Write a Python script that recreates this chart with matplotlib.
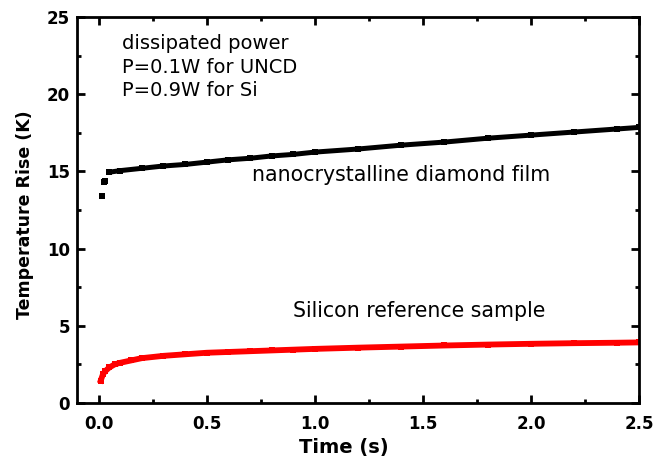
import matplotlib
matplotlib.use('Agg')
import matplotlib.pyplot as plt
from matplotlib.ticker import MultipleLocator

# values
t_uncd = [0.015, 0.025, 0.03, 0.05, 0.1, 0.2, 0.3, 0.4, 0.5, 0.6, 0.7, 0.8, 0.9, 1.0,
          1.2, 1.4, 1.6, 1.8, 2.0, 2.2, 2.4, 2.5]
dT_uncd = [13.4, 14.3, 14.35, 14.95, 15.05, 15.2, 15.35, 15.45, 15.6, 15.75, 15.85,
           16.0, 16.1, 16.25, 16.45, 16.7, 16.9, 17.15, 17.35, 17.55, 17.75, 17.85]

t_si = [0.01, 0.02, 0.03, 0.05, 0.075, 0.1, 0.15, 0.2, 0.3, 0.4, 0.5, 0.6, 0.7, 0.8,
        0.9, 1.0, 1.2, 1.4, 1.6, 1.8, 2.0, 2.2, 2.4, 2.5]
dT_si = [1.45, 1.85, 2.05, 2.3, 2.5, 2.6, 2.75, 2.9, 3.05, 3.15, 3.25, 3.3, 3.35, 3.4,
         3.45, 3.5, 3.58, 3.65, 3.72, 3.78, 3.83, 3.87, 3.9, 3.92]

xticks = [0.0, 0.5, 1.0, 1.5, 2.0, 2.5]
yticks = [0, 5, 10, 15, 20, 25]
notes = ['dissipated power', 'P=0.1W for UNCD', 'P=0.9W for Si']

plt.rcParams['font.family'] = ['DejaVu Sans']

fig = plt.figure(figsize=(6.67, 4.61), dpi=100)
ax = fig.add_axes([0.1154, 0.126, 0.8426, 0.837])

# UNCD: first two isolated points, then dense band
ax.plot(t_uncd[:3], dT_uncd[:3], 's', color='black', ms=4.5, mew=0)
ax.plot(t_uncd[3:], dT_uncd[3:], '-s', color='black', lw=3.6, ms=4.5, mew=0)
ax.plot(t_si, dT_si, '-s', color='#ff0000', lw=4.2, ms=4.8, mew=0)

ax.set_xlim(-0.1, 2.5)
ax.set_ylim(0, 25)
ax.set_xticks(xticks)
ax.set_xticklabels(['%.1f' % v for v in xticks])
ax.set_yticks(yticks)
ax.xaxis.set_minor_locator(MultipleLocator(0.25))
ax.yaxis.set_minor_locator(MultipleLocator(2.5))
ax.tick_params(which='both', direction='in', top=True, right=True, width=2)
ax.tick_params(which='major', length=6, labelsize=12)
ax.tick_params(which='minor', length=3)
ax.tick_params(axis='x', which='major', pad=9)
ax.tick_params(axis='y', which='major', pad=5)
for lab in ax.get_xticklabels() + ax.get_yticklabels():
  lab.set_fontweight('bold')
for sp in ax.spines.values():
  sp.set_linewidth(2)

ax.set_xlabel('Time (s)', fontsize=14, fontweight='bold')
ax.xaxis.set_label_coords(0.475, -0.09)
ax.set_ylabel('Temperature Rise (K)', fontsize=12.5, fontweight='bold')
ax.yaxis.set_label_coords(-0.076, 0.488)

for y, s in zip([22.92, 21.36, 19.87], notes):
  ax.text(0.106, y, s, fontsize=14, va='baseline', ha='left')
ax.text(0.708, 14.35, 'nanocrystalline diamond film', fontsize=14.8, va='baseline')
ax.text(0.898, 5.58, 'Silicon reference sample', fontsize=14.8, va='baseline')

fig.savefig('out.png', dpi=100)
